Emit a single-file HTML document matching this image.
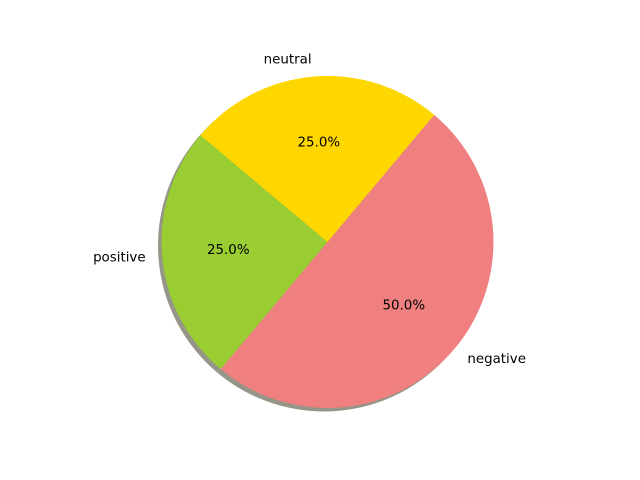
<!DOCTYPE html>
<html><head><meta charset="utf-8"><style>body{margin:0;background:#fff}svg{display:block}text{font-family:"DejaVu Sans","Liberation Sans",sans-serif;font-size:13.4px;fill:#000}</style></head>
<body>
<svg id="chart" width="640" height="480" viewBox="0 0 640 480">
<rect width="640" height="480" fill="#fff"/>
<g id="shadow"></g>
<g id="slices"></g>
<g id="labels"></g>
</svg>
<script>
const categories = ["positive", "negative", "neutral"];
const values = [25, 50, 25];
const colors = ["#9acd32", "#f08080", "#ffd700"];
const startAngle = 140;
const cx = 327.5, cy = 242, r = 166;
const NS = "http://www.w3.org/2000/svg";
const total = values.reduce((a, b) => a + b, 0);
function pt(deg, rad, ox, oy) {
  const a = deg * Math.PI / 180;
  return [ox + rad * Math.cos(a), oy - rad * Math.sin(a)];
}
function arcPath(a0, a1, ox, oy) {
  const p0 = pt(a0, r, ox, oy), p1 = pt(a1, r, ox, oy);
  const large = (a1 - a0) > 180 ? 1 : 0;
  return `M${ox},${oy} L${p0[0]},${p0[1]} A${r},${r} 0 ${large} 0 ${p1[0]},${p1[1]} Z`;
}
const sh = document.getElementById('shadow'), sl = document.getElementById('slices'), lb = document.getElementById('labels');
let a = startAngle;
values.forEach((v, i) => {
  const span = v / total * 360, a1 = a + span, mid = a + span / 2;
  const s = document.createElementNS(NS, 'path');
  s.setAttribute('d', arcPath(a, a1, cx - 3.5, cy + 3.5));
  s.setAttribute('fill', '#7a7a6a'); s.setAttribute('fill-opacity', '0.8');
  
  
  sh.appendChild(s);
  const p = document.createElementNS(NS, 'path');
  p.setAttribute('d', arcPath(a, a1, cx, cy));
  p.setAttribute('fill', colors[i]);
  
  
  sl.appendChild(p);
  const lp = pt(mid, r * 1.1, cx, cy);
  const t = document.createElementNS(NS, 'text');
  t.setAttribute('x', lp[0]); t.setAttribute('y', lp[1] + 3.5);
  t.setAttribute('text-anchor', Math.cos(mid * Math.PI / 180) < 0 ? 'end' : 'start');
  t.textContent = categories[i];
  
  
  lb.appendChild(t);
  const pp = pt(mid, r * 0.6, cx, cy);
  const q = document.createElementNS(NS, 'text');
  q.setAttribute('x', pp[0]); q.setAttribute('y', pp[1] + 3.5);
  q.setAttribute('text-anchor', 'middle');
  q.textContent = (v / total * 100).toFixed(1) + '%';
  
  
  lb.appendChild(q);
  a = a1;
});
</script>
</body></html>
